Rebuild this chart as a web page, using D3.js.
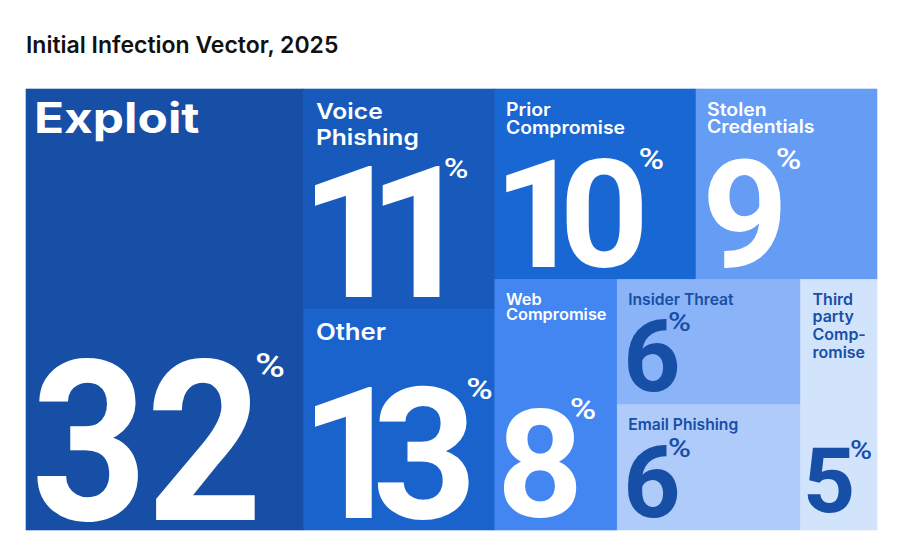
<!DOCTYPE html>
<html>
<head>
<meta charset="utf-8">
<script src="https://cdn.jsdelivr.net/npm/d3@7"></script>
<style>
  html, body { margin: 0; padding: 0; background: #ffffff; }
  svg { display: block; }
</style>
</head>
<body>
<svg id="chart" width="900" height="553"></svg>
<script>
// ---------------- DATA ----------------
const chartTitle = "Initial Infection Vector, 2025";
const categories = ["Exploit", "Voice Phishing", "Other", "Prior Compromise", "Stolen Credentials",
                    "Web Compromise", "Insider Threat", "Email Phishing", "Third party Compromise"];
const percentValues = [32, 11, 13, 10, 9, 8, 6, 6, 5];
// relative tile areas as drawn in the source graphic ("Other" is drawn at 11 although labelled 13)
const drawnAreas = [32, 11, 11, 10, 9, 8, 6, 6, 5];
// nesting of the tiles (column / row groups)
const groupPaths = ["", "col2", "col2", "col3/top", "col3/top", "col3/bottom",
                    "col3/bottom/stack", "col3/bottom/stack", "col3/bottom"];
const labelLines = [["Exploit"], ["Voice", "Phishing"], ["Other"], ["Prior", "Compromise"],
                    ["Stolen", "Credentials"], ["Web", "Compromise"], ["Insider Threat"],
                    ["Email Phishing"], ["Third", "party", "Comp-", "romise"]];

// ---------------- STYLES ----------------
const DARK = "#174ea6";
const cellStyles = {
  "Exploit":               { fill: "#174ea6", ink: "#ffffff", labelSize: 42,   labelWeight: 700, stretch: 1.18, lineH: 44,  padX: 8,  numSize: 225, numStretch: 0.9,  numPadX: 10.7, digitGap: 0.07, padB: 8,  pctSize: 34, pctGap: 1,  pctDy: -5 },
  "Voice Phishing":        { fill: "#185abc", ink: "#ffffff", labelSize: 22,   labelWeight: 600, stretch: 1.12, lineH: 26,  padX: 12, numSize: 183, numStretch: 1,    numPadX: 11,   digitGap: 0.06, padB: 13, pctSize: 28, pctGap: 5,  pctDy: -7 },
  "Other":                 { fill: "#1b63cc", ink: "#ffffff", labelSize: 23,   labelWeight: 600, stretch: 1.12, lineH: 26,  padX: 12, numSize: 183, numStretch: 1,    numPadX: 11,   digitGap: 0.03, padB: 10, pctSize: 30, pctGap: -2, pctDy: -7 },
  "Prior Compromise":      { fill: "#1967d2", ink: "#ffffff", labelSize: 18,   labelWeight: 600, stretch: 1.075,lineH: 18,  padX: 11, numSize: 150, numStretch: 1.04, numPadX: 11,   digitGap: 0.07, padB: 11, pctSize: 29, pctGap: -3, pctDy: -10 },
  "Stolen Credentials":    { fill: "#659cf4", ink: "#ffffff", labelSize: 18,   labelWeight: 600, stretch: 1.08, lineH: 17.5,padX: 11, numSize: 150, numStretch: 1,    numPadX: 12,   digitGap: 0.07, padB: 11, pctSize: 29, pctGap: -4, pctDy: -10 },
  "Web Compromise":        { fill: "#4386f2", ink: "#ffffff", labelSize: 15.5, labelWeight: 600, stretch: 1.055,lineH: 15.7,padX: 11, numSize: 150, numStretch: 1,    numPadX: 8,    digitGap: 0.07, padB: 12, pctSize: 30, pctGap: -6, pctDy: -10 },
  "Insider Threat":        { fill: "#8ab4f7", ink: DARK,      labelSize: 15.5, labelWeight: 600, stretch: 1.01, lineH: 18,  padX: 11, numSize: 100, numStretch: 1,    numPadX: 10,   digitGap: 0.07, padB: 13, pctSize: 26, pctGap: -8, pctDy: -7 },
  "Email Phishing":        { fill: "#aecbfa", ink: DARK,      labelSize: 15.5, labelWeight: 600, stretch: 1.01, lineH: 18,  padX: 11, numSize: 100, numStretch: 1,    numPadX: 10,   digitGap: 0.07, padB: 12, pctSize: 26, pctGap: -8, pctDy: -7 },
  "Third party Compromise":{ fill: "#d2e3fc", ink: DARK,      labelSize: 15.5, labelWeight: 600, stretch: 1.03, lineH: 18,  padX: 12, numSize: 91,  numStretch: 1,    numPadX: 6.5,  digitGap: 0.07, padB: 17, pctSize: 25, pctGap: -1, pctDy: -7 }
};
const LABEL_FONT = "Inter, 'Open Sans', sans-serif";
const NUM_FAMILY = "Roboto";
const NUM_FONT = "Roboto, 'Open Sans', sans-serif";
const PCT_STRETCH = 1.2;
const CAP = 0.727;

// ---------------- LAYOUT ----------------
const width = 900, height = 553;
const margin = { top: 89, right: 23, bottom: 23, left: 26 };
const innerW = width - margin.left - margin.right;
const innerH = height - margin.top - margin.bottom;

// build hierarchy from the arrays
const rootData = { name: "root", children: [] };
categories.forEach((c, i) => {
  let node = rootData;
  if (groupPaths[i]) {
    groupPaths[i].split("/").forEach(seg => {
      let ch = node.children.find(n => n.children && n.name === seg);
      if (!ch) { ch = { name: seg, children: [] }; node.children.push(ch); }
      node = ch;
    });
  }
  node.children.push({ name: c, area: drawnAreas[i], pct: percentValues[i], lines: labelLines[i] });
});

const root = d3.hierarchy(rootData).sum(d => d.children ? 0 : d.area);
d3.treemap().tile(d3.treemapSliceDice).size([innerW, innerH]).round(false)(root);

const svg = d3.select("#chart");
svg.append("rect").attr("width", width).attr("height", height).attr("fill", "#ffffff");

svg.append("text")
  .attr("x", margin.left).attr("y", 53)
  .attr("font-family", LABEL_FONT).attr("font-weight", 600).attr("font-size", 23)
  .attr("fill", "#111111")
  .text(chartTitle);

const plot = svg.append("g").attr("transform", `translate(${margin.left},${margin.top})`);

const canvas = document.createElement("canvas");
const ctx = canvas.getContext("2d");
function measure(txt, weight, size, family) {
  ctx.font = `${weight} ${size}px ${family}`;
  return ctx.measureText(txt);
}

const leaves = root.leaves();
const cells = plot.selectAll("g.cell").data(leaves).join("g").attr("class", "cell");

cells.append("rect")
  .attr("x", d => d.x0).attr("y", d => d.y0)
  .attr("width", d => d.x1 - d.x0).attr("height", d => d.y1 - d.y0)
  .attr("fill", d => cellStyles[d.data.name].fill)
  .attr("stroke", d => cellStyles[d.data.name].fill).attr("stroke-width", 0.6);

cells.each(function (d) {
  const s = cellStyles[d.data.name];
  const g = d3.select(this);

  // category label (top-left)
  const firstBase = 13.8 + CAP * s.labelSize;
  const t = g.append("text")
    .attr("transform", `translate(${d.x0 + s.padX},${d.y0 + firstBase}) scale(${s.stretch},1)`)
    .attr("font-family", LABEL_FONT).attr("font-weight", s.labelWeight)
    .attr("font-size", s.labelSize).attr("fill", s.ink);
  d.data.lines.forEach((ln, i) => {
    t.append("tspan").attr("x", 0).attr("y", i * s.lineH).text(ln);
  });

  // big number, digits placed by their ink extents
  const numStr = String(d.data.pct);
  const ms = numStr.split("").map(ch => ({ ch, m: measure(ch, 700, s.numSize, NUM_FAMILY) }));
  const maxDesc = d3.max(ms, o => o.m.actualBoundingBoxDescent);
  const maxAsc = d3.max(ms, o => o.m.actualBoundingBoxAscent);
  const nb = d.y1 - s.padB - maxDesc;
  const ox = d.x0 + s.numPadX;
  const num = g.append("text")
    .attr("transform", `translate(${ox},${nb}) scale(${s.numStretch},1)`)
    .attr("font-family", NUM_FONT).attr("font-weight", 700)
    .attr("font-size", s.numSize).attr("fill", s.ink);
  let cursor = 0, localRight = 0;
  ms.forEach(o => {
    const x = cursor + o.m.actualBoundingBoxLeft;
    num.append("tspan").attr("x", x).attr("y", 0).text(o.ch);
    localRight = x + o.m.actualBoundingBoxRight;
    cursor = localRight + s.digitGap * s.numSize;
  });
  const inkRight = ox + localRight * s.numStretch;
  const inkTop = nb - maxAsc;

  // percent sign, top-right of the number
  const pm = measure("%", 500, s.pctSize, NUM_FAMILY);
  const px = inkRight + s.pctGap;
  const pb = inkTop + s.pctDy + pm.actualBoundingBoxAscent;
  g.append("text")
    .attr("transform", `translate(${px},${pb}) scale(${PCT_STRETCH},1)`)
    .attr("x", pm.actualBoundingBoxLeft).attr("y", 0)
    .attr("font-family", NUM_FONT).attr("font-weight", 500)
    .attr("font-size", s.pctSize).attr("fill", s.ink)
    .text("%");
});
</script>
</body>
</html>
